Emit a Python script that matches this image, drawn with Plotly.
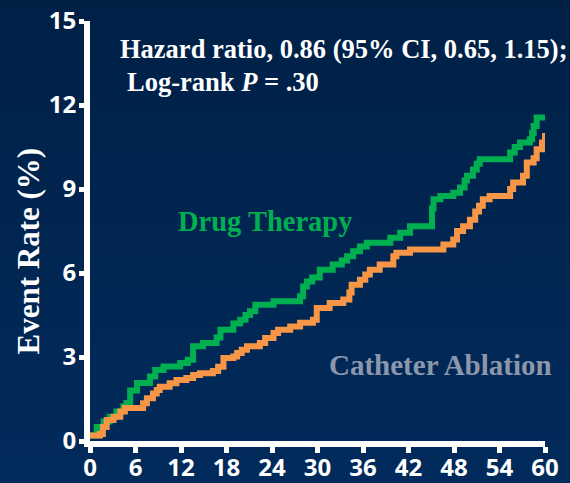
import base64
import plotly.graph_objects as go

# ---- data (months, cumulative event rate %) ----
drug_months = [0, 0.9, 1.8, 2.6, 3.5, 4.4, 4.8, 5.3, 6.2, 7.9, 8.6, 9.7, 11.9, 12.9, 13.6, 14.9,
               16.7, 17.2, 18.9, 19.8, 20.5, 21.1, 21.8, 24.2, 27.7, 28.1, 28.6, 29.3, 30.3,
               32.0, 33.2, 33.9, 34.7, 35.6, 36.5, 39.6, 40.9, 42.2, 45.1, 45.3, 46.2, 47.9,
               48.8, 49.4, 49.7, 50.5, 51.0, 51.4, 55.4, 56.0, 56.7, 58.0, 58.3, 58.5, 58.9, 60]
drug_rate = [0.2, 0.5, 0.7, 0.87, 1.05, 1.23, 1.35, 1.8, 2.07, 2.3, 2.54, 2.66, 2.79, 2.9, 3.38, 3.5,
             3.7, 3.97, 4.2, 4.33, 4.5, 4.63, 4.87, 4.99, 5.17, 5.52, 5.7, 5.84, 6.12,
             6.3, 6.45, 6.6, 6.78, 6.95, 7.08, 7.26, 7.44, 7.67, 8.3, 8.63, 8.75, 8.87,
             9.05, 9.3, 9.47, 9.7, 9.9, 10.06, 10.3, 10.5, 10.66, 10.78, 11.0, 11.25, 11.55, 11.55]

abl_months = [0, 1.3, 1.7, 2.2, 3.1, 4.0, 4.6, 7.0, 7.5, 8.3, 8.8, 9.2, 10.5, 11.4, 12.7, 13.6,
              14.5, 16.2, 16.9, 17.6, 18.9, 19.4, 20.0, 20.7, 22.4, 23.1, 24.2, 24.8, 26.4,
              27.7, 29.4, 29.9, 31.6, 33.4, 34.2, 34.5, 35.6, 36.3, 36.9, 38.2, 40.0, 40.4,
              42.2, 46.6, 47.9, 48.4, 49.2, 50.1, 50.8, 51.3, 51.8, 52.7, 55.4, 55.8, 57.1,
              57.6, 58.5, 58.9, 59.6, 60]
abl_rate = [0.2, 0.25, 0.5, 0.75, 0.87, 1.05, 1.18, 1.35, 1.53, 1.7, 1.82, 1.94, 2.06, 2.18, 2.25, 2.36,
            2.42, 2.5, 2.65, 2.96, 3.02, 3.14, 3.26, 3.38, 3.5, 3.68, 3.86, 3.97, 4.09,
            4.22, 4.33, 4.75, 4.93, 5.05, 5.3, 5.58, 5.76, 5.95, 6.12, 6.3, 6.6, 6.72,
            6.84, 7.02, 7.2, 7.5, 7.67, 7.9, 8.2, 8.4, 8.63, 8.75, 9.0, 9.23, 9.47,
            9.95, 10.1, 10.42, 10.66, 11.0]

x_ticks = [0, 6, 12, 18, 24, 30, 36, 42, 48, 54, 60]
y_ticks = [0, 3, 6, 9, 12, 15]

GREEN = "#00b050"
ORANGE = "#f79646"
GRAY = "#8d97ab"

W, H = 570, 483
ML, MR, MT, MB = 90, 25, 21, 42
PW, PH = W - ML - MR, H - MT - MB

svg = ('<svg xmlns="http://www.w3.org/2000/svg" width="570" height="483">'
       '<defs><linearGradient id="g" x1="0" y1="0" x2="0" y2="1">'
       '<stop offset="0" stop-color="#002046"/><stop offset="1" stop-color="#012b5c"/>'
       '</linearGradient></defs><rect width="570" height="483" fill="url(#g)"/></svg>')
bg_src = "data:image/svg+xml;base64," + base64.b64encode(svg.encode()).decode()

fig = go.Figure()
fig.add_trace(go.Scatter(x=drug_months, y=drug_rate, mode="lines", line=dict(color=GREEN, width=6, shape="hv"),
                         cliponaxis=False, showlegend=False))
fig.add_trace(go.Scatter(x=abl_months, y=abl_rate, mode="lines", line=dict(color=ORANGE, width=6, shape="hv"),
                         cliponaxis=False, showlegend=False))

tickfont = dict(family="Open Sans", size=24, color="white", weight="bold")
fig.update_xaxes(range=[0, 60], tickvals=x_ticks, showline=True, linecolor="white", linewidth=6,
                 ticks="outside", ticklen=6, tickwidth=5, tickcolor="white", showgrid=False,
                 zeroline=False, tickfont=tickfont, automargin=False, ticklabelstandoff=-6)
fig.update_yaxes(range=[0, 15], tickvals=y_ticks, showline=True, linecolor="white", linewidth=6,
                 ticks="outside", ticklen=5, tickwidth=5, tickcolor="white", showgrid=False,
                 zeroline=False, tickfont=tickfont, automargin=False, ticklabelstandoff=-2)

serif = "Liberation Serif"
ann = [
    dict(text="<b>Hazard ratio, 0.86 (95% CI, 0.65, 1.15);</b>", x=3.7, y=14.0, xanchor="left",
         font=dict(family=serif, size=26.5, color="white")),
    dict(text="<b>Log-rank <i>P</i> = .30</b>", x=4.6, y=12.82, xanchor="left",
         font=dict(family=serif, size=26.5, color="white")),
    dict(text="<b>Drug Therapy</b>", x=23.1, y=7.84, xanchor="center",
         font=dict(family=serif, size=28.5, color=GREEN)),
    dict(text="<b>Catheter Ablation</b>", x=46.2, y=2.72, xanchor="center",
         font=dict(family=serif, size=29, color=GRAY)),
]
for a in ann:
    fig.add_annotation(xref="x", yref="y", showarrow=False, yanchor="middle", **a)
fig.add_annotation(text="<b>Event Rate (%)</b>", xref="paper", yref="y", x=(28 - ML) / PW, y=6.77,
                   textangle=-90, showarrow=False, xanchor="center", yanchor="middle",
                   font=dict(family=serif, size=31, color="white"))

fig.add_layout_image(dict(source=bg_src, xref="paper", yref="paper", x=-ML / PW, y=1 + MT / PH,
                          sizex=W / PW, sizey=H / PH, sizing="stretch", layer="below",
                          xanchor="left", yanchor="top"))

fig.update_layout(width=W, height=H, margin=dict(l=ML, r=MR, t=MT, b=MB),
                  paper_bgcolor="#012552", plot_bgcolor="rgba(0,0,0,0)")
fig.write_html("out.html")
